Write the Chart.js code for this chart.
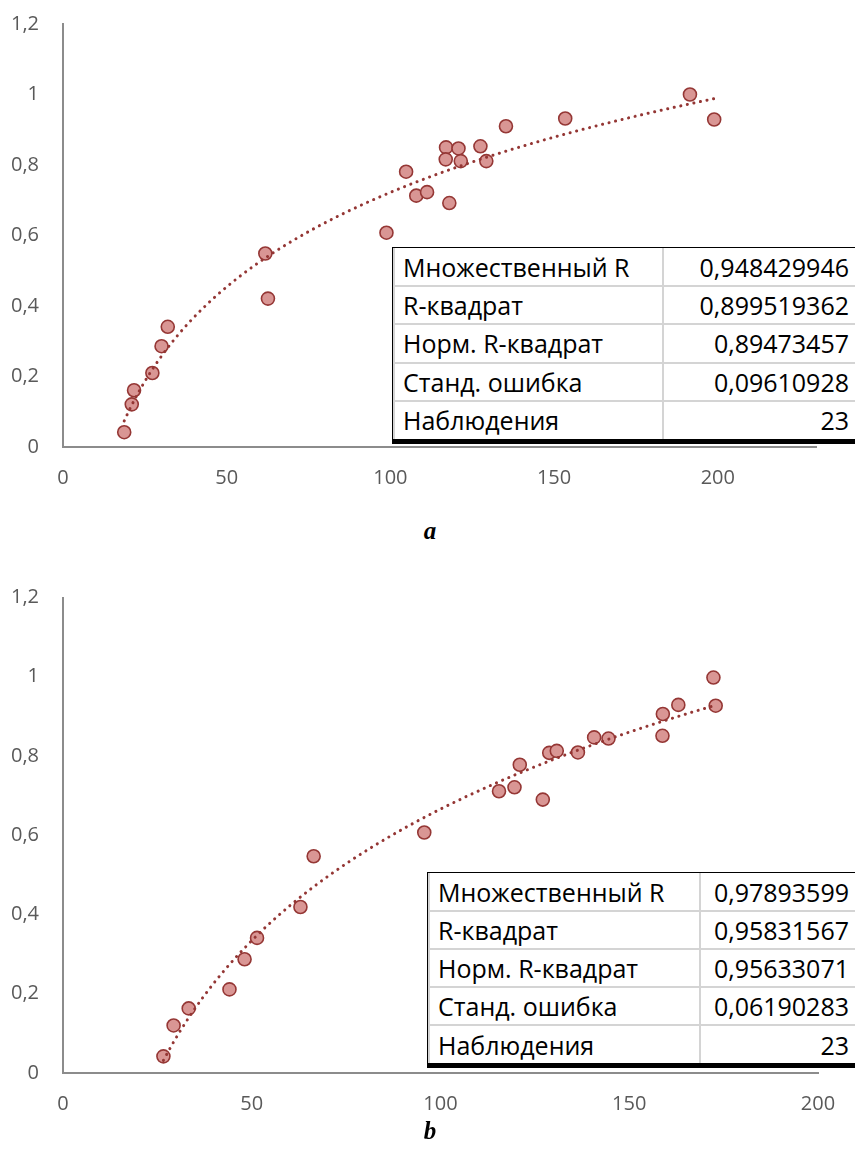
<!DOCTYPE html>
<html><head><meta charset="utf-8">
<script src="https://cdn.jsdelivr.net/npm/chart.js@4.4.1/dist/chart.umd.min.js"></script>
<style>
html,body{margin:0;padding:0;background:#fff;}
body{width:855px;height:1167px;position:relative;overflow:hidden;font-family:'Open Sans',sans-serif;}
.cv{position:absolute;left:0;}
.stats{position:absolute;border-top:1px solid #000;border-left:1px solid #000;border-bottom:5px solid #000;background:#fff;}
.stats table{border-collapse:collapse;font-family:'Open Sans',sans-serif;font-size:25px;color:#000;}
.stats td{border:2px solid #d4d4d4;padding:0 6px 0 8px;white-space:nowrap;vertical-align:middle;box-sizing:border-box;overflow:hidden;}
.stats tr:first-child td{border-top:none;}
.stats tr:last-child td{border-bottom:none;}
.stats td.v{text-align:right;border-right:none;}
.cap{position:absolute;width:40px;text-align:center;font-family:'Liberation Serif',serif;font-weight:bold;font-style:italic;font-size:25px;color:#000;}
</style>
</head><body>
<canvas id="cA" class="cv" width="855" height="512" style="top:-12px"></canvas>
<canvas id="cB" class="cv" width="855" height="566" style="top:560px"></canvas>
<div id="tA" class="stats" style="left:392px;top:247px;"></div>
<div id="tB" class="stats" style="left:427px;top:872px;"></div>
<div class="cap" style="left:410px;top:517px;">a</div>
<div class="cap" style="left:410px;top:1117px;">b</div>
<script>
// ---- data ----
const xA = [18.7, 21.0, 21.7, 27.3, 30.1, 32.0, 61.8, 62.6, 98.8, 104.8, 107.9, 111.2, 118.0, 117.0, 120.8, 116.9, 121.5, 127.5, 129.3, 135.3, 153.4, 191.5, 198.9];
const yA = [0.042, 0.121, 0.161, 0.210, 0.286, 0.341, 0.549, 0.421, 0.608, 0.781, 0.713, 0.723, 0.692, 0.850, 0.847, 0.816, 0.811, 0.853, 0.811, 0.910, 0.932, 1.000, 0.929];
const xB = [26.6, 29.3, 33.3, 44.1, 48.1, 51.4, 62.9, 66.4, 95.7, 115.5, 119.6, 121.0, 127.1, 128.8, 130.8, 136.4, 140.7, 144.5, 158.9, 158.8, 163.0, 172.3, 172.9];
const yB = [0.042, 0.120, 0.163, 0.211, 0.287, 0.341, 0.419, 0.547, 0.607, 0.711, 0.721, 0.778, 0.690, 0.808, 0.813, 0.809, 0.847, 0.844, 0.906, 0.851, 0.929, 0.998, 0.927];
const xTicks = [0, 50, 100, 150, 200];
const yTicks = [0, 0.2, 0.4, 0.6, 0.8, 1, 1.2];
const statLabels = ['Множественный R', 'R-квадрат', 'Норм. R-квадрат', 'Станд. ошибка', 'Наблюдения'];
const statsA = ['0,948429946', '0,899519362', '0,89473457', '0,09610928', '23'];
const statsB = ['0,97893599', '0,95831567', '0,95633071', '0,06190283', '23'];

// ---- logarithmic least-squares trendline (as Excel) ----
function logTrend(xs, ys) {
  const n = xs.length;
  const lx = xs.map(Math.log);
  const mx = lx.reduce((s, v) => s + v, 0) / n;
  const my = ys.reduce((s, v) => s + v, 0) / n;
  let sxy = 0, sxx = 0;
  for (let i = 0; i < n; i++) { sxy += (lx[i] - mx) * (ys[i] - my); sxx += (lx[i] - mx) ** 2; }
  const a = sxy / sxx, b = my - a * mx;
  const lo = Math.min(...xs), hi = Math.max(...xs);
  const pts = [];
  const N = 150;
  for (let k = 0; k <= N; k++) { const x = lo + (hi - lo) * k / N; pts.push({x, y: a * Math.log(x) + b}); }
  return pts;
}

function fmt(v) { return String(Math.round(v * 10) / 10).replace('.', ','); }

function makeChart(id, xs, ys, xmax, padTop, padRight) {
  const pts = xs.map((x, i) => ({x, y: ys[i]}));
  new Chart(document.getElementById(id), {
    type: 'scatter',
    data: {
      datasets: [
        { type: 'line', data: logTrend(xs, ys), borderColor: '#943634', borderWidth: 3,
          borderDash: [0.1, 6.6], borderCapStyle: 'round', pointRadius: 0, fill: false, tension: 0 },
        { data: pts, backgroundColor: '#D99694', borderColor: '#953735', borderWidth: 1.6, pointRadius: 6.5 }
      ]
    },
    options: {
      responsive: false, animation: false,
      layout: { padding: { top: padTop, right: padRight, left: 0, bottom: 0 } },
      plugins: { legend: { display: false }, tooltip: { enabled: false } },
      scales: {
        x: {
          type: 'linear', min: 0, max: xmax,
          afterBuildTicks: s => { s.ticks = xTicks.map(v => ({value: v})); },
          afterFit: s => { s.height = 53; },
          grid: { display: false, drawTicks: false },
          border: { display: true, color: '#8c8c8c', width: 2 },
          ticks: { color: '#595959', font: { family: 'Open Sans', size: 20 }, padding: 19, maxRotation: 0, callback: v => String(v) }
        },
        y: {
          type: 'linear', min: 0, max: 1.2,
          afterBuildTicks: s => { s.ticks = yTicks.map(v => ({value: v})); },
          afterFit: s => { s.width = 63; },
          grid: { display: false, drawTicks: false },
          border: { display: true, color: '#8c8c8c', width: 2 },
          ticks: { color: '#595959', font: { family: 'Open Sans', size: 20 }, padding: 24, callback: v => fmt(v) }
        }
      }
    }
  });
}

function makeTable(id, vals, w1, w2, rh) {
  let h = '<table>';
  statLabels.forEach((l, i) => {
    h += `<tr style="height:${rh}px"><td style="width:${w1}px;max-width:${w1}px">${l}</td><td class="v" style="width:${w2}px;max-width:${w2}px">${vals[i]}</td></tr>`;
  });
  h += '</table>';
  document.getElementById(id).innerHTML = h;
}

makeChart('cA', xA, yA, 230, 36, 39);
makeChart('cB', xB, yB, 200, 37.5, 37);
makeTable('tA', statsA, 270, 193, 38.2);
makeTable('tB', statsB, 273, 155, 38.1);
</script>
</body></html>
